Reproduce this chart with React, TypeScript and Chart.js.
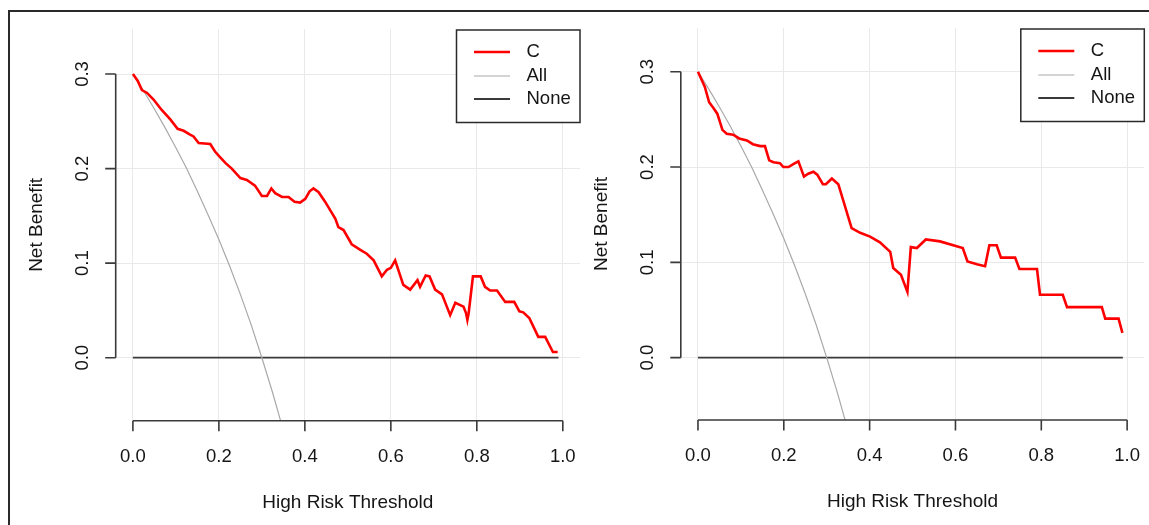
import React, { useEffect, useRef } from "react";
import { Chart, registerables } from "chart.js";

Chart.register(...registerables);

// ---------- data ----------
const xTicks = [0, 0.2, 0.4, 0.6, 0.8, 1.0];
const xTickLabels = ["0.0", "0.2", "0.4", "0.6", "0.8", "1.0"];
const yTicks = [0, 0.1, 0.2, 0.3];
const yTickLabels = ["0.0", "0.1", "0.2", "0.3"];
const legendLabels = ["C", "All", "None"];
const xTitle = "High Risk Threshold";
const yTitle = "Net Benefit";

const leftThreshold = [
  0.0, 0.011, 0.021, 0.033, 0.048, 0.067, 0.087, 0.104, 0.118, 0.133, 0.141, 0.153,
  0.18, 0.191, 0.201, 0.215, 0.23, 0.25, 0.265, 0.284, 0.3, 0.312, 0.322, 0.331,
  0.347, 0.362, 0.376, 0.389, 0.401, 0.411, 0.42, 0.432, 0.447, 0.471, 0.478, 0.49,
  0.509, 0.529, 0.544, 0.56, 0.579, 0.591, 0.6, 0.61, 0.629, 0.645, 0.662, 0.668,
  0.681, 0.69, 0.703, 0.719, 0.738, 0.75, 0.769, 0.775, 0.778, 0.781, 0.791, 0.809,
  0.819, 0.831, 0.847, 0.866, 0.887, 0.899, 0.908, 0.922, 0.943, 0.959, 0.977, 0.988,
];
const leftNetBenefit = [
  0.3, 0.293, 0.283, 0.28, 0.273, 0.262, 0.252, 0.242, 0.24, 0.236, 0.234, 0.227,
  0.226, 0.218, 0.213, 0.206, 0.2, 0.19, 0.188, 0.182, 0.171, 0.171, 0.179, 0.174,
  0.17, 0.17, 0.165, 0.164, 0.168, 0.176, 0.179, 0.175, 0.165, 0.147, 0.138, 0.135,
  0.12, 0.114, 0.11, 0.103, 0.086, 0.093, 0.095, 0.103, 0.077, 0.072, 0.082, 0.075,
  0.087, 0.086, 0.072, 0.067, 0.045, 0.058, 0.054, 0.047, 0.04, 0.047, 0.086, 0.086,
  0.075, 0.071, 0.071, 0.059, 0.059, 0.049, 0.048, 0.042, 0.022, 0.022, 0.006, 0.006,
];

const rightThreshold = [
  0.0, 0.009, 0.016, 0.026, 0.036, 0.045, 0.057, 0.067, 0.082, 0.096, 0.114, 0.128,
  0.145, 0.156, 0.166, 0.176, 0.191, 0.199, 0.211, 0.222, 0.234, 0.247, 0.257, 0.269,
  0.278, 0.291, 0.298, 0.312, 0.327, 0.358, 0.378, 0.401, 0.424, 0.448, 0.455, 0.473,
  0.488, 0.496, 0.51, 0.531, 0.564, 0.617, 0.628, 0.65, 0.669, 0.679, 0.696, 0.706,
  0.739, 0.749, 0.79, 0.797, 0.85, 0.86, 0.941, 0.949, 0.98, 0.989,
];
const rightNetBenefit = [
  0.3, 0.291, 0.284, 0.268, 0.262, 0.256, 0.239, 0.235, 0.234, 0.23, 0.228, 0.224,
  0.222, 0.222, 0.207, 0.205, 0.204, 0.2, 0.2, 0.203, 0.206, 0.19, 0.193, 0.195,
  0.192, 0.182, 0.182, 0.188, 0.182, 0.136, 0.131, 0.127, 0.121, 0.111, 0.094, 0.087,
  0.069, 0.116, 0.115, 0.124, 0.122, 0.115, 0.101, 0.098, 0.096, 0.118, 0.118, 0.105,
  0.105, 0.093, 0.093, 0.066, 0.066, 0.053, 0.053, 0.041, 0.041, 0.026,
];

const allThreshold = [0, 0.025, 0.05, 0.075, 0.1, 0.125, 0.15, 0.175, 0.2, 0.225, 0.25, 0.275, 0.3, 0.325, 0.35];
const allNetBenefit = [0.3, 0.282, 0.263, 0.243, 0.222, 0.2, 0.176, 0.151, 0.125, 0.097, 0.067, 0.035, 0.0, -0.037, -0.077];

const noneThreshold = [0, 0.99];
const noneNetBenefit = [0, 0];

// ---------- style ----------
const FONT_FAMILY = '"Liberation Sans", Arial, sans-serif';
const TEXT_COLOR = "#151515";
const AXIS_COLOR = "#3a3a3a";
const GRID_COLOR = "#e9e9e9";
const TICK_LEN = 10.5;

const pts = (xs: number[], ys: number[]) => xs.map((x, i) => ({ x, y: ys[i] }));

const rAxesPlugin = {
  id: "rAxes",
  afterDraw(chart: any) {
    const { ctx, chartArea: ca, scales } = chart;
    const xs = scales.x;
    const ys = scales.y;
    ctx.save();
    // axes
    ctx.strokeStyle = AXIS_COLOR;
    ctx.lineWidth = 1.6;
    ctx.beginPath();
    const yA = ys.getPixelForValue(yTicks[0]);
    const yB = ys.getPixelForValue(yTicks[yTicks.length - 1]);
    ctx.moveTo(ca.left, yA);
    ctx.lineTo(ca.left, yB);
    yTicks.forEach((v) => {
      const p = ys.getPixelForValue(v);
      ctx.moveTo(ca.left, p);
      ctx.lineTo(ca.left - TICK_LEN, p);
    });
    const xA = xs.getPixelForValue(xTicks[0]);
    const xB = xs.getPixelForValue(xTicks[xTicks.length - 1]);
    ctx.moveTo(xA, ca.bottom);
    ctx.lineTo(xB, ca.bottom);
    xTicks.forEach((v) => {
      const p = xs.getPixelForValue(v);
      ctx.moveTo(p, ca.bottom);
      ctx.lineTo(p, ca.bottom + TICK_LEN);
    });
    ctx.stroke();

    // tick labels
    ctx.fillStyle = TEXT_COLOR;
    ctx.font = `18.5px ${FONT_FAMILY}`;
    ctx.textAlign = "center";
    ctx.textBaseline = "middle";
    xTicks.forEach((v, i) => {
      ctx.fillText(xTickLabels[i], xs.getPixelForValue(v), ca.bottom + 36);
    });
    yTicks.forEach((v, i) => {
      ctx.save();
      ctx.translate(ca.left - 33, ys.getPixelForValue(v));
      ctx.rotate(-Math.PI / 2);
      ctx.fillText(yTickLabels[i], 0, 0);
      ctx.restore();
    });

    // titles
    ctx.font = `19px ${FONT_FAMILY}`;
    ctx.fillText(xTitle, (ca.left + ca.right) / 2, ca.bottom + 82);
    ctx.save();
    ctx.translate(ca.left - 79, (ca.top + ca.bottom) / 2);
    ctx.rotate(-Math.PI / 2);
    ctx.fillText(yTitle, 0, 0);
    ctx.restore();

    // legend (top right, white box)
    ctx.font = `18.5px ${FONT_FAMILY}`;
    const boxW = 123.5;
    const boxH = 92.5;
    const bx = ca.right - boxW;
    const by = ca.top + 1;
    ctx.fillStyle = "#ffffff";
    ctx.fillRect(bx, by, boxW, boxH);
    ctx.strokeStyle = "#2a2a2a";
    ctx.lineWidth = 1.5;
    ctx.strokeRect(bx, by, boxW, boxH);
    const rows = [22, 46, 69];
    chart.data.datasets.forEach((ds: any, i: number) => {
      const ry = by + rows[i];
      ctx.strokeStyle = ds.borderColor;
      ctx.lineWidth = ds.borderWidth;
      ctx.beginPath();
      ctx.moveTo(bx + 17.5, ry);
      ctx.lineTo(bx + 53.5, ry);
      ctx.stroke();
      ctx.fillStyle = TEXT_COLOR;
      ctx.textAlign = "left";
      ctx.fillText(legendLabels[i], bx + 70, ry);
    });
    ctx.restore();
  },
};

function makeConfig(
  thr: number[],
  nb: number[],
  yMin: number,
  yMax: number,
  padding: { left: number; right: number; top: number; bottom: number }
): any {
  return {
    type: "line",
    data: {
      datasets: [
        {
          label: legendLabels[0],
          data: pts(thr, nb),
          borderColor: "#ff0000",
          borderWidth: 2.6,
          pointRadius: 0,
          tension: 0,
        },
        {
          label: legendLabels[1],
          data: pts(allThreshold, allNetBenefit),
          borderColor: "#a9a9a9",
          borderWidth: 1.2,
          pointRadius: 0,
          tension: 0,
        },
        {
          label: legendLabels[2],
          data: pts(noneThreshold, noneNetBenefit),
          borderColor: "#3a3a3a",
          borderWidth: 1.8,
          pointRadius: 0,
          tension: 0,
        },
      ],
    },
    options: {
      animation: false,
      responsive: false,
      events: [],
      layout: { padding },
      plugins: { legend: { display: false }, tooltip: { enabled: false } },
      scales: {
        x: {
          type: "linear",
          min: -0.04,
          max: 1.04,
          afterBuildTicks: (s: any) => {
            s.ticks = xTicks.map((v) => ({ value: v }));
          },
          afterFit: (s: any) => {
            s.height = 0;
          },
          ticks: { display: false },
          border: { display: false },
          grid: { color: GRID_COLOR, lineWidth: 1, drawTicks: false },
        },
        y: {
          type: "linear",
          min: yMin,
          max: yMax,
          afterBuildTicks: (s: any) => {
            s.ticks = yTicks.map((v) => ({ value: v }));
          },
          afterFit: (s: any) => {
            s.width = 0;
          },
          ticks: { display: false },
          border: { display: false },
          grid: { color: GRID_COLOR, lineWidth: 1, drawTicks: false },
        },
      },
    },
    plugins: [rAxesPlugin],
  };
}

const RIGHT_CANVAS_LEFT = 560;

export default function App() {
  const leftRef = useRef<HTMLCanvasElement>(null);
  const rightRef = useRef<HTMLCanvasElement>(null);

  useEffect(() => {
    const c1 = new Chart(
      leftRef.current as HTMLCanvasElement,
      makeConfig(leftThreshold, leftNetBenefit, -0.0666, 0.3476, {
        left: 115.7,
        right: 20,
        top: 29,
        bottom: 104.3,
      })
    );
    const c2 = new Chart(
      rightRef.current as HTMLCanvasElement,
      makeConfig(rightThreshold, rightNetBenefit, -0.0654, 0.3459, {
        left: 680.8 - RIGHT_CANVAS_LEFT,
        right: 4.7,
        top: 28,
        bottom: 105,
      })
    );
    return () => {
      c1.destroy();
      c2.destroy();
    };
  }, []);

  return (
    <div
      style={{
        position: "fixed",
        left: 0,
        top: 0,
        width: 1149,
        height: 525,
        background: "#ffffff",
        overflow: "hidden",
      }}
    >
      <div
        style={{
          position: "absolute",
          left: 8,
          top: 10,
          width: 1300,
          height: 700,
          borderLeft: "2px solid #2a2a2a",
          borderTop: "2px solid #2a2a2a",
        }}
      />
      <canvas
        ref={leftRef}
        width={600}
        height={525}
        style={{ position: "absolute", left: 0, top: 0, width: 600, height: 525 }}
      />
      <canvas
        ref={rightRef}
        width={1149 - RIGHT_CANVAS_LEFT}
        height={525}
        style={{
          position: "absolute",
          left: RIGHT_CANVAS_LEFT,
          top: 0,
          width: 1149 - RIGHT_CANVAS_LEFT,
          height: 525,
        }}
      />
    </div>
  );
}
